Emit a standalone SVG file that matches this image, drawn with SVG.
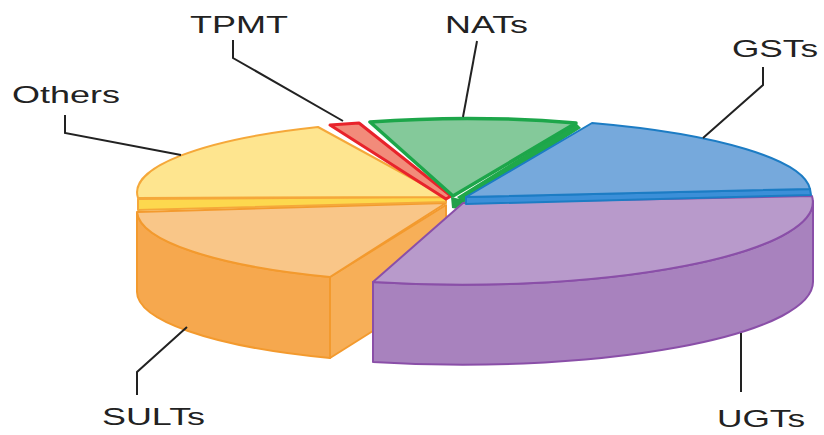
<svg xmlns="http://www.w3.org/2000/svg" width="824" height="435" viewBox="0 0 824 435">
<style>
.lbl{font-family:"Liberation Sans",Arial,sans-serif;font-size:24px;fill:#222}
.lead{fill:none;stroke:#222;stroke-width:2}
.or{stroke:#F39A2E;stroke-width:2;stroke-linejoin:round}
.ye{stroke:#F5A83A;stroke-width:2;stroke-linejoin:round}
.rd{stroke:#E8232B;stroke-width:3;stroke-linejoin:round}
.gr{stroke:#1DA64A;stroke-width:3.5;stroke-linejoin:round}
.bl{stroke:#1C7CC4;stroke-width:2;stroke-linejoin:round}
.pu{stroke:#8A4FA8;stroke-width:2;stroke-linejoin:round}
</style>
<rect width="824" height="435" fill="#fff"/>
<g id="sults">
<path class="or" fill="#F6A84E" d="M137 213 L137 290 A310 72 0 0 0 330 358 L330 277 A310 72 0 0 1 137 213 Z"/>
<path class="or" fill="#F7AF58" d="M330 277 L446 205 L446 285 L330 358 Z"/>
<path class="or" fill="#F9C688" d="M137 212 L446 203 L330 277 A310 72 0 0 1 137 212 Z"/>
</g>
<g id="others">
<path class="ye" fill="#FDD84E" d="M138 199 L446 197 L446 202 L138 210 Z"/>
<path class="ye" fill="#FEE58F" d="M446 197 L318 127 A310 72 0 0 0 138 198 Z"/>
</g>
<g id="tpmt">
<path class="rd" fill="#F28B7A" d="M330 125 L359 123 L451 196 L446 199 Z"/>
</g>
<g id="nats">
<path fill="#1FA84A" d="M576 123 L581 128 L463 203 L457 197 Z"/>
<path fill="#22A04A" d="M451 197 L464 200 L464 210 L452 208 Z"/>
<path class="gr" fill="#84C99A" d="M453 196 L370 122 A330 80 0 0 1 576 123 Z"/>
</g>
<g id="ugts">
<path class="pu" fill="#A882BE" d="M373 282 A350 83 0 0 0 813 201 L813 281 A350 83 0 0 1 373 362 Z"/>
<path class="pu" fill="#B89ACB" d="M463 203 L812 196 A350 83 0 0 1 373 282 Z"/>
</g>
<g id="gsts">
<path class="bl" fill="#3B8FD8" d="M466 197 L810 189 L811 195 L466 204 Z"/>
<path class="bl" fill="#76A9DC" d="M466 197 L592 123 A345 75 0 0 1 810 189 Z"/>
</g>
<g id="connectors">
<polyline class="lead" points="65,115 65,133 181,155"/>
<polyline class="lead" points="233,40 233,58 343,121"/>
<polyline class="lead" points="477,41 463,117"/>
<polyline class="lead" points="763,67 763,85 703,138"/>
<polyline class="lead" points="187,327 137,372 137,395"/>
<polyline class="lead" points="741,333 741,392"/>
</g>
<g id="labels">
<text class="lbl" x="12" y="103" textLength="108" lengthAdjust="spacingAndGlyphs">Others</text>
<text class="lbl" x="190" y="33" textLength="98" lengthAdjust="spacingAndGlyphs">TPMT</text>
<text class="lbl" x="445" y="33" textLength="83" lengthAdjust="spacingAndGlyphs">NATs</text>
<text class="lbl" x="732" y="57" textLength="86" lengthAdjust="spacingAndGlyphs">GSTs</text>
<text class="lbl" x="102" y="425" textLength="103" lengthAdjust="spacingAndGlyphs">SULTs</text>
<text class="lbl" x="717" y="427" textLength="88" lengthAdjust="spacingAndGlyphs">UGTs</text>
</g>
</svg>
